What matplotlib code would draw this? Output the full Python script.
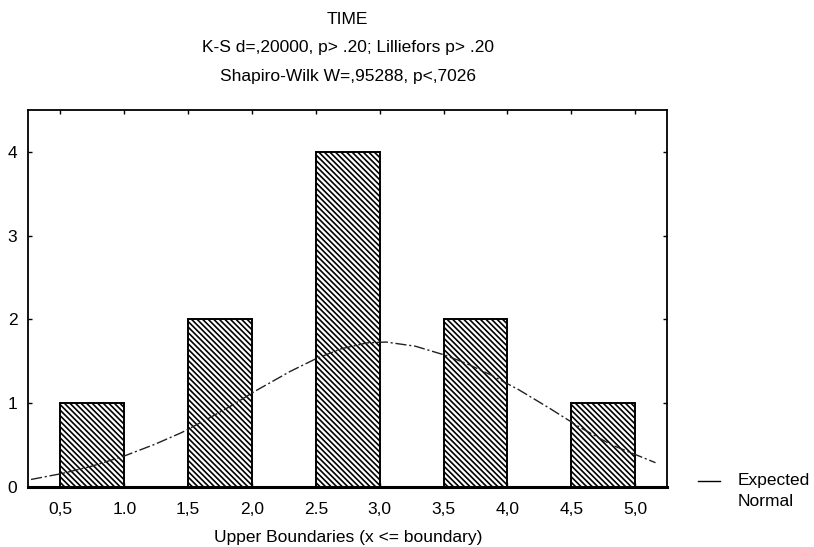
import numpy as np
import matplotlib.pyplot as plt
from matplotlib.lines import Line2D

plt.rcParams['font.family'] = ['Liberation Sans', 'DejaVu Sans']
plt.rcParams['hatch.linewidth'] = 1.2

# histogram bins (lower edges, width 0.5) and counts
bin_left = [0.5, 1.5, 2.5, 3.5, 4.5]
counts = [1, 2, 4, 2, 1]
bin_width = 0.5

# expected normal curve
curve_x = [0.27, 0.51, 0.75, 1.00, 1.24, 1.45, 1.65, 1.85, 2.02, 2.30, 2.50,
           2.70, 2.90, 3.05, 3.28, 3.52, 3.70, 3.88, 4.09, 4.33, 4.57, 4.82, 5.16]
curve_y = [0.09, 0.16, 0.25, 0.37, 0.51, 0.65, 0.81, 0.98, 1.14, 1.38, 1.53,
           1.65, 1.72, 1.73, 1.68, 1.57, 1.46, 1.33, 1.16, 0.94, 0.71, 0.50, 0.29]

xticks = [0.5, 1.0, 1.5, 2.0, 2.5, 3.0, 3.5, 4.0, 4.5, 5.0]
xtick_labels = ["0,5", "1.0", "1,5", "2,0", "2.5", "3,0", "3,5", "4,0", "4,5", "5,0"]
yticks = [0, 1, 2, 3, 4]

title_lines = ["TIME",
               "K-S d=,20000, p> .20; Lilliefors p> .20",
               "Shapiro-Wilk W=,95288, p<,7026"]

fs = 12.5

fig = plt.figure(figsize=(8.14, 5.47), dpi=100)
ax = fig.add_axes([0.035, 0.1097, 0.7844, 0.6893])

ax.bar(bin_left, counts, width=bin_width, align='edge', color='white',
       edgecolor='black', linewidth=1.4, hatch='\\\\\\\\\\\\', zorder=2)
ax.plot(curve_x, curve_y, color='#222222', linewidth=1.0,
        linestyle=(0, (8, 2, 1.5, 2)), zorder=3)

ax.set_xlim(0.25, 5.25)
ax.set_ylim(0, 4.5)
ax.set_xticks(xticks)
ax.set_xticklabels(xtick_labels)
ax.set_yticks(yticks)
ax.tick_params(direction='in', length=3, width=1, top=True, right=True,
               labelsize=fs, pad=11)
ax.tick_params(axis='y', pad=8)
for side in ['left', 'right', 'top']:
    ax.spines[side].set_linewidth(1.3)
ax.spines['bottom'].set_linewidth(2.2)
ax.set_xlabel("Upper Boundaries (x <= boundary)", fontsize=fs, labelpad=9)

cx = 0.035 + 0.7844 / 2
for i, line in enumerate(title_lines):
    fig.text(cx, 1 - (19 + 29 * i) / 547, line, ha='center', va='center', fontsize=fs)

# legend drawn like the original: short line with wrapped label
fig.add_artist(Line2D([698 / 814, 720 / 814], [1 - 481 / 547, 1 - 481 / 547],
                      color='black', linewidth=1))
fig.text(738 / 814, 1 - 481 / 547, "Expected", ha='left', va='center', fontsize=fs)
fig.text(738 / 814, 1 - 501 / 547, "Normal", ha='left', va='center', fontsize=fs)

fig.savefig("out.png", dpi=100)
